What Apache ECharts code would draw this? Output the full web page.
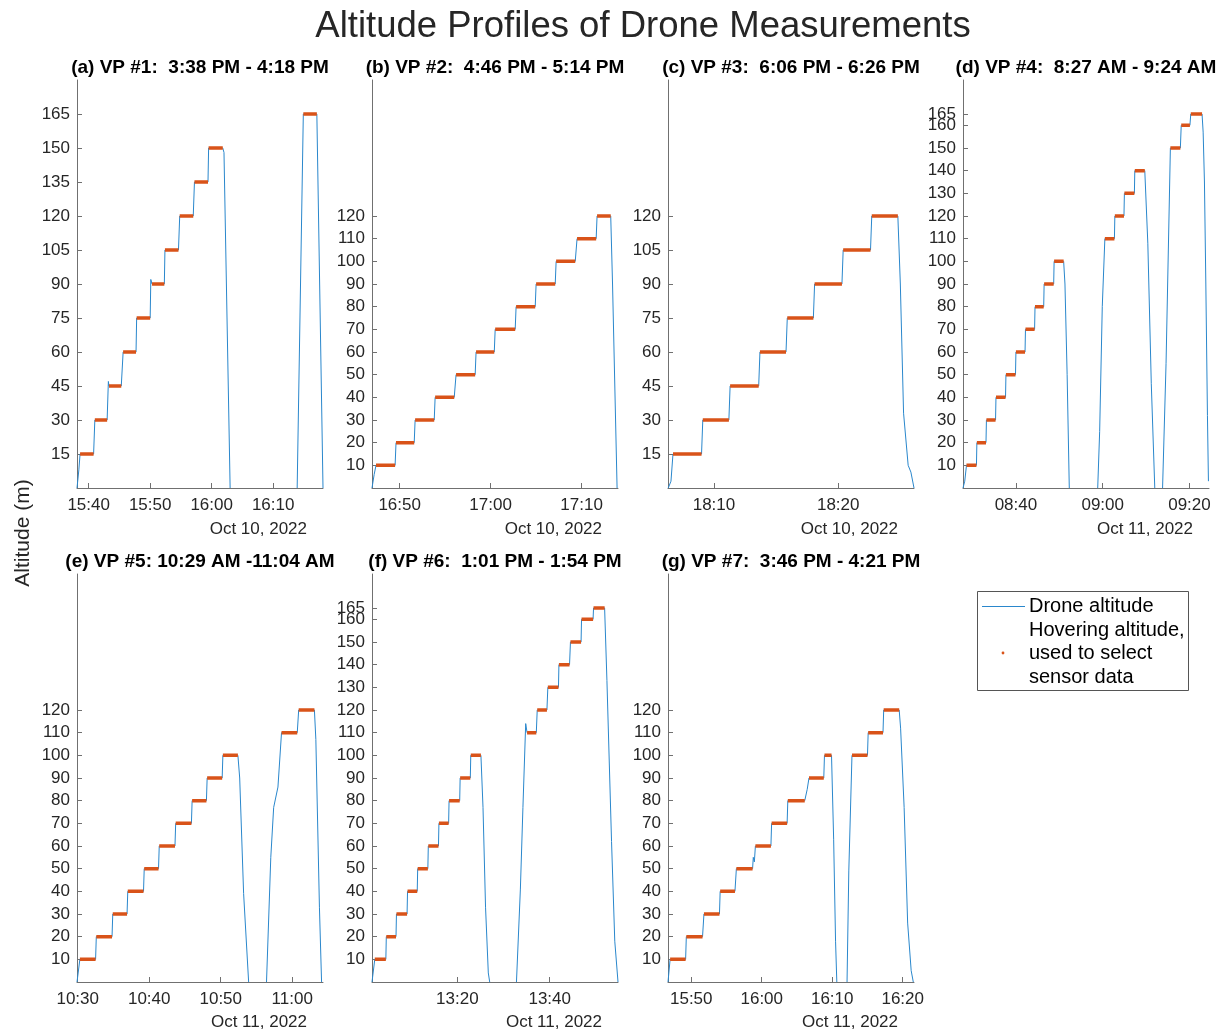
<!DOCTYPE html>
<html>
<head>
<meta charset="utf-8">
<script src="https://cdn.jsdelivr.net/npm/echarts@6/dist/echarts.min.js"></script>
<style>
  html, body { margin: 0; padding: 0; background: #fff; }
  #main { width: 1231px; height: 1033px; }
</style>
</head>
<body>
<div id="main"></div>
<script>
// hover segments: [start, end, altitude]; flight: extra points of the drone track [time, altitude], null = no data (on the ground)
const hoverA = [['15:38.6','15:40.8',15],['15:41.0','15:43.0',30],['15:43.3','15:45.3',45],['15:45.6','15:47.7',60],['15:47.8','15:50.0',75],['15:50.3','15:52.3',90],['15:52.4','15:54.6',105],['15:54.8','15:57.0',120],['15:57.2','15:59.4',135],['15:59.5','16:01.8',150],['16:14.9','16:17.1',165]]
const flightA = [['15:38.1',0],['15:38.4',8],['15:43.2',47],['15:50.1',92],['16:02.0',148],['16:03.0',0],['16:08.0',null],['16:13.9',0],['16:18.1',0]]

const hoverB = [['16:47.4','16:49.5',10],['16:49.6','16:51.6',20],['16:51.7','16:53.8',30],['16:53.9','16:56.0',40],['16:56.2','16:58.3',50],['16:58.4','17:00.4',60],['17:00.5','17:02.7',70],['17:02.8','17:04.9',80],['17:05.0','17:07.1',90],['17:07.2','17:09.3',100],['17:09.5','17:11.6',110],['17:11.7','17:13.2',120]]
const flightB = [['16:46.96',0],['16:47.2',6],['17:13.4',90],['17:13.9',0]]

const hoverC = [['18:06.7','18:09.0',15],['18:09.1','18:11.2',30],['18:11.3','18:13.6',45],['18:13.7','18:15.8',60],['18:15.9','18:18.0',75],['18:18.1','18:20.3',90],['18:20.4','18:22.6',105],['18:22.7','18:24.8',120]]
const flightC = [['18:06.32',0],['18:06.54',3],['18:25.0',90],['18:25.26',33],['18:25.63',10],['18:25.85',7],['18:26.1',0]]

const hoverD = [['8:28.6','8:30.9',10],['8:31.0','8:33.1',20],['8:33.2','8:35.3',30],['8:35.4','8:37.6',40],['8:37.7','8:39.9',50],['8:40.0','8:42.1',60],['8:42.2','8:44.3',70],['8:44.4','8:46.4',80],['8:46.5','8:48.7',90],['8:48.8','8:51.0',100],['9:00.5','9:02.7',110],['9:02.8','9:04.9',120],['9:05.0','9:07.3',130],['9:07.4','9:09.7',140],['9:15.6','9:17.9',150],['9:18.1','9:20.1',160],['9:20.3','9:22.9',165]]
const flightD = [['8:27.8',0],['8:28.2',3],['8:51.3',90],['8:51.8',50],['8:52.3',0],['8:55.5',null],['8:58.85',0],['8:59.3',25],['8:59.9',80],['9:10.4',108],['9:11.2',46],['9:12.0',0],['9:12.9',null],['9:13.8',0],['9:14.6',55],['9:23.15',157],['9:23.45',135],['9:23.77',90],['9:24.14',32],['9:24.37',3]]

const hoverE = [['10:30.3','10:32.5',10],['10:32.6','10:34.8',20],['10:34.9','10:36.9',30],['10:37.0','10:39.2',40],['10:39.3','10:41.3',50],['10:41.4','10:43.6',60],['10:43.7','10:45.9',70],['10:46.0','10:48.0',80],['10:48.1','10:50.2',90],['10:50.3','10:52.4',100],['10:58.5','11:00.7',110],['11:00.9','11:03.1',120]]
const flightE = [['10:29.9',0],['10:52.65',90],['10:53.2',39],['10:53.9',0],['10:55.1',null],['10:56.4',0],['10:57.0',55],['10:57.4',77],['10:58.0',86],['11:03.3',107],['11:03.8',33],['11:04.1',0]]

const hoverF = [['13:02.1','13:04.5',10],['13:04.6','13:06.7',20],['13:06.8','13:09.1',30],['13:09.2','13:11.3',40],['13:11.4','13:13.6',50],['13:13.7','13:15.9',60],['13:16.0','13:18.1',70],['13:18.2','13:20.5',80],['13:20.6','13:22.8',90],['13:22.9','13:25.1',100],['13:35.1','13:37.1',110],['13:37.3','13:39.4',120],['13:39.6','13:41.9',130],['13:42.0','13:44.3',140],['13:44.5','13:46.8',150],['13:46.9','13:49.4',160],['13:49.5','13:51.9',165]]
const flightF = [['13:01.5',0],['13:25.55',77],['13:26.1',33],['13:26.7',4],['13:27.0',0],['13:30.0',null],['13:32.8',0],['13:33.65',41],['13:34.2',77],['13:34.8',114],['13:52.4',133],['13:53.4',62],['13:54.1',18],['13:54.8',0]]

const hoverG = [['15:47.0','15:49.2',10],['15:49.3','15:51.6',20],['15:51.8','15:54.0',30],['15:54.1','15:56.2',40],['15:56.4','15:58.7',50],['15:59.1','16:01.3',60],['16:01.4','16:03.6',70],['16:03.7','16:06.1',80],['16:06.7','16:08.8',90],['16:08.9','16:09.9',100],['16:12.8','16:15.0',100],['16:15.1','16:17.2',110],['16:17.3','16:19.5',120]]
const flightG = [['15:46.7',0],['15:58.8',55],['15:58.95',53],['16:06.45',85],['16:10.2',63],['16:10.47',18],['16:10.65',0],['16:11.4',null],['16:12.1',0],['16:12.35',49],['16:19.7',112],['16:20.2',77],['16:20.7',26],['16:21.2',5],['16:21.5',0]]

// tick labels
const xTicksA = ['15:40','15:50','16:00','16:10']
const xTicksB = ['16:50','17:00','17:10']
const xTicksC = ['18:10','18:20']
const xTicksD = ['08:40','09:00','09:20']
const xTicksE = ['10:30','10:40','10:50','11:00']
const xTicksF = ['13:20','13:40']
const xTicksG = ['15:50','16:00','16:10','16:20']

const yTicks15 = [15,30,45,60,75,90,105,120,135,150,165]
const yTicks10to120 = [10,20,30,40,50,60,70,80,90,100,110,120]
const yTicks15to120 = [15,30,45,60,75,90,105,120]
const yTicks10to165 = [10,20,30,40,50,60,70,80,90,100,110,120,130,140,150,160,165]

const panels = [
  { title: '(a) VP #1:  3:38 PM - 4:18 PM', hover: hoverA, flight: flightA, xRange: ['15:38.1','16:18.1'], xTicks: xTicksA, yTicks: yTicks15, date: 'Oct 10, 2022' },
  { title: '(b) VP #2:  4:46 PM - 5:14 PM', hover: hoverB, flight: flightB, xRange: ['16:46.96','17:14.0'], xTicks: xTicksB, yTicks: yTicks10to120, date: 'Oct 10, 2022' },
  { title: '(c) VP #3:  6:06 PM - 6:26 PM', hover: hoverC, flight: flightC, xRange: ['18:06.3','18:26.1'], xTicks: xTicksC, yTicks: yTicks15to120, date: 'Oct 10, 2022' },
  { title: '(d) VP #4:  8:27 AM - 9:24 AM', hover: hoverD, flight: flightD, xRange: ['8:27.8','9:24.5'], xTicks: xTicksD, yTicks: yTicks10to165, date: 'Oct 11, 2022' },
  { title: '(e) VP #5: 10:29 AM -11:04 AM', hover: hoverE, flight: flightE, xRange: ['10:29.9','11:04.3'], xTicks: xTicksE, yTicks: yTicks10to120, date: 'Oct 11, 2022' },
  { title: '(f) VP #6:  1:01 PM - 1:54 PM', hover: hoverF, flight: flightF, xRange: ['13:01.5','13:54.8'], xTicks: xTicksF, yTicks: yTicks10to165, date: 'Oct 11, 2022' },
  { title: '(g) VP #7:  3:46 PM - 4:21 PM', hover: hoverG, flight: flightG, xRange: ['15:46.7','16:21.6'], xTicks: xTicksG, yTicks: yTicks10to120, date: 'Oct 11, 2022' }
]

const tm = s => { const p = s.split(':'); return +p[0] * 60 + parseFloat(p[1]) }
const hhmm = v => {
  const h = Math.floor((v + 0.001) / 60)
  const m = Math.round(v - h * 60)
  return String(h).padStart(2, '0') + ':' + String(m).padStart(2, '0')
}

const FONT = '"Liberation Sans", Arial, Helvetica, sans-serif'
const BLUE = '#2a87cc'
const ORANGE = '#D95319'
const AXIS = '#707070'
const TEXT = '#262626'

const colLeft = [77, 372, 668, 963]
const rowTop = [80, 574]
const W = 246
const H = 408

const chart = echarts.init(document.getElementById('main'))

const grid = [], xAxis = [], yAxis = [], series = []
const graphic = [
  { type: 'text', x: 643, y: 27, style: { text: 'Altitude Profiles of Drone Measurements', font: '36.5px ' + FONT, fill: TEXT, align: 'center', verticalAlign: 'middle' } },
  { type: 'text', x: 23, y: 533, rotation: Math.PI / 2, style: { text: 'Altitude (m)', font: '21px ' + FONT, fill: TEXT, align: 'center', verticalAlign: 'middle' } }
]

const yLabel = { show: true, hideOverlap: false, margin: 7, fontSize: 17, fontFamily: FONT, color: TEXT }

panels.forEach((p, i) => {
  const left = colLeft[i % 4]
  const top = rowTop[Math.floor(i / 4)]
  grid.push({ left: left, top: top, width: W, height: H, outerBoundsMode: 'none', containLabel: false })
  xAxis.push({
    type: 'value', gridIndex: i, min: tm(p.xRange[0]), max: tm(p.xRange[1]),
    axisLine: { show: true, onZero: false, lineStyle: { color: AXIS, width: 1 } },
    axisTick: { show: true, inside: true, length: 5, customValues: p.xTicks.map(tm), lineStyle: { color: AXIS } },
    axisLabel: { show: true, hideOverlap: false, customValues: p.xTicks.map(tm), formatter: hhmm, margin: 9, fontSize: 17, fontFamily: FONT, color: TEXT },
    splitLine: { show: false }
  })
  // labels that sit too close to their neighbour (165 above 160) go on a second, label-only axis
  const crowded = p.yTicks.filter((v, k) => k > 0 && v - p.yTicks[k - 1] < 8)
  const mainLabels = p.yTicks.filter(v => !crowded.includes(v))
  const yIndex = yAxis.length
  yAxis.push({
    type: 'value', gridIndex: i, min: 0, max: 180,
    axisLine: { show: true, lineStyle: { color: AXIS, width: 1 } },
    axisTick: { show: true, inside: true, length: 5, customValues: p.yTicks, lineStyle: { color: AXIS } },
    axisLabel: Object.assign({ customValues: mainLabels }, yLabel),
    splitLine: { show: false }
  })
  if (crowded.length) {
    yAxis.push({
      type: 'value', gridIndex: i, min: 0, max: 180, position: 'left',
      axisLine: { show: false }, axisTick: { show: false }, splitLine: { show: false },
      axisLabel: Object.assign({ customValues: crowded }, yLabel)
    })
  }
  const track = p.flight.map(d => [tm(d[0]), d[1] === null ? '-' : d[1]])
    .concat(p.hover.flatMap(h => [[tm(h[0]), h[2]], [tm(h[1]), h[2]]]))
    .sort((a, b) => a[0] - b[0])
  series.push({
    type: 'line', name: 'Drone altitude', xAxisIndex: i, yAxisIndex: yIndex, data: track,
    showSymbol: false, connectNulls: false, lineStyle: { color: BLUE, width: 1 }, silent: true
  })
  series.push({
    type: 'line', name: 'Hovering altitude', xAxisIndex: i, yAxisIndex: yIndex,
    data: p.hover.flatMap(h => [[tm(h[0]), h[2]], [tm(h[1]), h[2]], ['-', '-']]),
    showSymbol: false, connectNulls: false, lineStyle: { color: ORANGE, width: 3.5 }, silent: true
  })
  graphic.push({ type: 'text', x: left + W / 2, y: i < 4 ? 68 : 562, style: { text: p.title, font: 'bold 19px ' + FONT, fill: '#000', align: 'center', verticalAlign: 'middle' } })
  graphic.push({ type: 'text', x: left + W - 16, y: i < 4 ? 529 : 1022, style: { text: p.date, font: '17px ' + FONT, fill: TEXT, align: 'right', verticalAlign: 'middle' } })
})

// legend box
graphic.push(
  { type: 'rect', shape: { x: 977.5, y: 591.5, width: 211, height: 99 }, style: { fill: '#fff', stroke: '#555', lineWidth: 1 } },
  { type: 'line', shape: { x1: 982, y1: 606.5, x2: 1025, y2: 606.5 }, style: { stroke: BLUE, lineWidth: 1 } },
  { type: 'circle', shape: { cx: 1003, cy: 653, r: 1.4 }, style: { fill: ORANGE } },
  { type: 'text', x: 1029, y: 606.5, style: { text: 'Drone altitude', font: '20px ' + FONT, fill: '#000', verticalAlign: 'middle' } },
  { type: 'text', x: 1029, y: 630, style: { text: 'Hovering altitude,', font: '20px ' + FONT, fill: '#000', verticalAlign: 'middle' } },
  { type: 'text', x: 1029, y: 653.5, style: { text: 'used to select', font: '20px ' + FONT, fill: '#000', verticalAlign: 'middle' } },
  { type: 'text', x: 1029, y: 677, style: { text: 'sensor data', font: '20px ' + FONT, fill: '#000', verticalAlign: 'middle' } }
)

chart.setOption({
  animation: false,
  backgroundColor: '#fff',
  grid: grid,
  xAxis: xAxis,
  yAxis: yAxis,
  series: series,
  graphic: graphic
})
</script>
</body>
</html>
